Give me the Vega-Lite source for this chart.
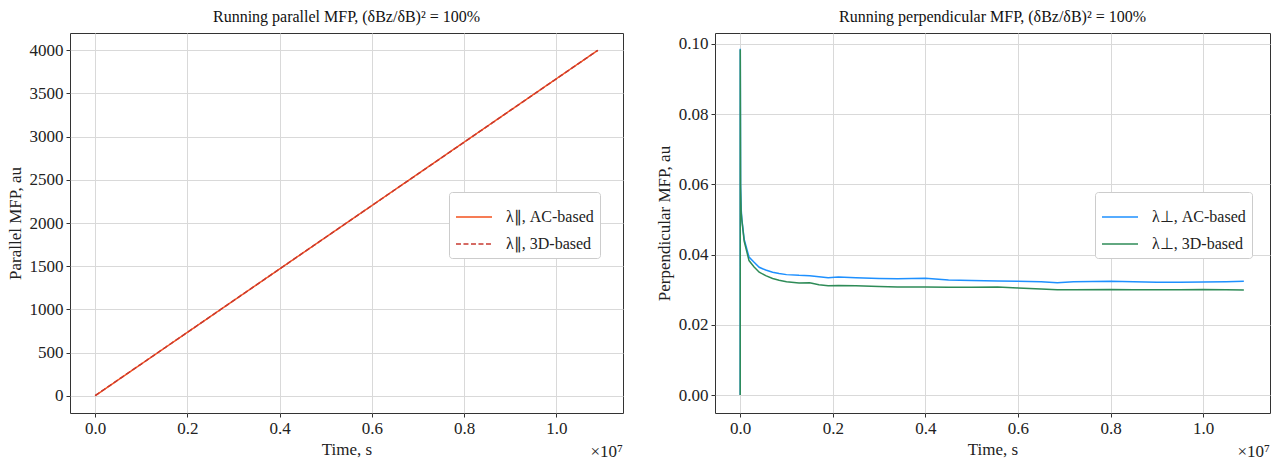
{
  "$schema": "https://vega.github.io/schema/vega-lite/v6.json",
  "background": "white",
  "padding": {"left": 5, "top": 8, "right": 5, "bottom": 2},
  "bounds": "flush",
  "spacing": 92,
  "config": {
    "font": "Liberation Serif",
    "view": {"stroke": "#333333", "strokeWidth": 1},
    "axis": {
      "labelFont": "Liberation Serif", "labelFontSize": 17, "labelColor": "#222222",
      "titleFont": "Liberation Serif", "titleFontSize": 17, "titleFontWeight": "normal", "titleColor": "#222222",
      "gridColor": "#d9d9d9", "gridWidth": 1, "tickColor": "#333333", "tickSize": 4,
      "domain": false, "labelPadding": 3, "titlePadding": 5
    },
    "legend": {
      "orient": "none", "legendX": 379, "legendY": 159,
      "fillColor": "white", "strokeColor": "#cccccc", "cornerRadius": 3, "padding": 6,
      "labelFont": "Liberation Serif", "labelFontSize": 16, "labelColor": "#222222",
      "symbolType": "stroke", "symbolSize": 1300, "symbolStrokeWidth": 1.5,
      "labelOffset": 13, "rowPadding": -7, "title": null
    },
    "title": {"font": "Liberation Serif", "fontSize": 16, "fontWeight": "normal", "color": "#111111", "offset": 8, "anchor": "middle"}
  },
  "datasets": {
    "par": [
      {"series": "λ∥, AC-based", "t": 0, "v": 0},
      {"series": "λ∥, AC-based", "t": 1000000, "v": 367},
      {"series": "λ∥, AC-based", "t": 2000000, "v": 734},
      {"series": "λ∥, AC-based", "t": 3000000, "v": 1101},
      {"series": "λ∥, AC-based", "t": 4000000, "v": 1468},
      {"series": "λ∥, AC-based", "t": 5000000, "v": 1835},
      {"series": "λ∥, AC-based", "t": 6000000, "v": 2202},
      {"series": "λ∥, AC-based", "t": 7000000, "v": 2569},
      {"series": "λ∥, AC-based", "t": 8000000, "v": 2936},
      {"series": "λ∥, AC-based", "t": 9000000, "v": 3303},
      {"series": "λ∥, AC-based", "t": 10000000, "v": 3670},
      {"series": "λ∥, AC-based", "t": 10900000, "v": 4000},
      {"series": "λ∥, 3D-based", "t": 0, "v": 0},
      {"series": "λ∥, 3D-based", "t": 1000000, "v": 367},
      {"series": "λ∥, 3D-based", "t": 2000000, "v": 734},
      {"series": "λ∥, 3D-based", "t": 3000000, "v": 1101},
      {"series": "λ∥, 3D-based", "t": 4000000, "v": 1468},
      {"series": "λ∥, 3D-based", "t": 5000000, "v": 1835},
      {"series": "λ∥, 3D-based", "t": 6000000, "v": 2202},
      {"series": "λ∥, 3D-based", "t": 7000000, "v": 2569},
      {"series": "λ∥, 3D-based", "t": 8000000, "v": 2936},
      {"series": "λ∥, 3D-based", "t": 9000000, "v": 3303},
      {"series": "λ∥, 3D-based", "t": 10000000, "v": 3670},
      {"series": "λ∥, 3D-based", "t": 10900000, "v": 4000}
    ],
    "perp": [
      {"series": "λ⊥, AC-based", "t": 0, "v": 0},
      {"series": "λ⊥, AC-based", "t": 1000, "v": 0.0986},
      {"series": "λ⊥, AC-based", "t": 8000, "v": 0.060},
      {"series": "λ⊥, AC-based", "t": 20000, "v": 0.053},
      {"series": "λ⊥, AC-based", "t": 36000, "v": 0.0500},
      {"series": "λ⊥, AC-based", "t": 86000, "v": 0.0443},
      {"series": "λ⊥, AC-based", "t": 190000, "v": 0.0393},
      {"series": "λ⊥, AC-based", "t": 300000, "v": 0.0378},
      {"series": "λ⊥, AC-based", "t": 410000, "v": 0.0364},
      {"series": "λ⊥, AC-based", "t": 550000, "v": 0.0356},
      {"series": "λ⊥, AC-based", "t": 700000, "v": 0.0350},
      {"series": "λ⊥, AC-based", "t": 840000, "v": 0.0346},
      {"series": "λ⊥, AC-based", "t": 1000000, "v": 0.0343},
      {"series": "λ⊥, AC-based", "t": 1270000, "v": 0.0341},
      {"series": "λ⊥, AC-based", "t": 1500000, "v": 0.0340},
      {"series": "λ⊥, AC-based", "t": 1700000, "v": 0.0337},
      {"series": "λ⊥, AC-based", "t": 1900000, "v": 0.0334},
      {"series": "λ⊥, AC-based", "t": 2120000, "v": 0.0336},
      {"series": "λ⊥, AC-based", "t": 2500000, "v": 0.0334},
      {"series": "λ⊥, AC-based", "t": 3000000, "v": 0.0332},
      {"series": "λ⊥, AC-based", "t": 3400000, "v": 0.0331},
      {"series": "λ⊥, AC-based", "t": 4000000, "v": 0.0333},
      {"series": "λ⊥, AC-based", "t": 4500000, "v": 0.0328},
      {"series": "λ⊥, AC-based", "t": 5000000, "v": 0.0326},
      {"series": "λ⊥, AC-based", "t": 5560000, "v": 0.0325},
      {"series": "λ⊥, AC-based", "t": 6000000, "v": 0.0324},
      {"series": "λ⊥, AC-based", "t": 6500000, "v": 0.0323},
      {"series": "λ⊥, AC-based", "t": 6850000, "v": 0.0320},
      {"series": "λ⊥, AC-based", "t": 7200000, "v": 0.0323},
      {"series": "λ⊥, AC-based", "t": 8000000, "v": 0.0324},
      {"series": "λ⊥, AC-based", "t": 8500000, "v": 0.0323},
      {"series": "λ⊥, AC-based", "t": 9000000, "v": 0.0321},
      {"series": "λ⊥, AC-based", "t": 9500000, "v": 0.0321},
      {"series": "λ⊥, AC-based", "t": 10000000, "v": 0.0322},
      {"series": "λ⊥, AC-based", "t": 10500000, "v": 0.0323},
      {"series": "λ⊥, AC-based", "t": 10880000, "v": 0.0324},
      {"series": "λ⊥, 3D-based", "t": 0, "v": 0},
      {"series": "λ⊥, 3D-based", "t": 1000, "v": 0.0984},
      {"series": "λ⊥, 3D-based", "t": 8000, "v": 0.059},
      {"series": "λ⊥, 3D-based", "t": 20000, "v": 0.052},
      {"series": "λ⊥, 3D-based", "t": 36000, "v": 0.0497},
      {"series": "λ⊥, 3D-based", "t": 86000, "v": 0.0438},
      {"series": "λ⊥, 3D-based", "t": 190000, "v": 0.0383},
      {"series": "λ⊥, 3D-based", "t": 300000, "v": 0.0365},
      {"series": "λ⊥, 3D-based", "t": 410000, "v": 0.0350},
      {"series": "λ⊥, 3D-based", "t": 550000, "v": 0.0340},
      {"series": "λ⊥, 3D-based", "t": 700000, "v": 0.0332},
      {"series": "λ⊥, 3D-based", "t": 840000, "v": 0.0327},
      {"series": "λ⊥, 3D-based", "t": 1000000, "v": 0.0323},
      {"series": "λ⊥, 3D-based", "t": 1270000, "v": 0.0319},
      {"series": "λ⊥, 3D-based", "t": 1500000, "v": 0.0320},
      {"series": "λ⊥, 3D-based", "t": 1700000, "v": 0.0314},
      {"series": "λ⊥, 3D-based", "t": 1900000, "v": 0.0311},
      {"series": "λ⊥, 3D-based", "t": 2120000, "v": 0.0312},
      {"series": "λ⊥, 3D-based", "t": 2500000, "v": 0.0311},
      {"series": "λ⊥, 3D-based", "t": 3000000, "v": 0.0309},
      {"series": "λ⊥, 3D-based", "t": 3400000, "v": 0.0308},
      {"series": "λ⊥, 3D-based", "t": 4000000, "v": 0.0308},
      {"series": "λ⊥, 3D-based", "t": 4500000, "v": 0.0307},
      {"series": "λ⊥, 3D-based", "t": 5000000, "v": 0.0307},
      {"series": "λ⊥, 3D-based", "t": 5560000, "v": 0.0308},
      {"series": "λ⊥, 3D-based", "t": 6000000, "v": 0.0305},
      {"series": "λ⊥, 3D-based", "t": 6500000, "v": 0.0302},
      {"series": "λ⊥, 3D-based", "t": 6850000, "v": 0.0300},
      {"series": "λ⊥, 3D-based", "t": 7200000, "v": 0.0300},
      {"series": "λ⊥, 3D-based", "t": 8000000, "v": 0.0301},
      {"series": "λ⊥, 3D-based", "t": 8500000, "v": 0.0300},
      {"series": "λ⊥, 3D-based", "t": 9000000, "v": 0.0300},
      {"series": "λ⊥, 3D-based", "t": 9500000, "v": 0.0300},
      {"series": "λ⊥, 3D-based", "t": 10000000, "v": 0.0301},
      {"series": "λ⊥, 3D-based", "t": 10500000, "v": 0.0300},
      {"series": "λ⊥, 3D-based", "t": 10880000, "v": 0.0299}
    ],
    "offsetLabel": [{"label": "×10⁷"}]
  },
  "hconcat": [
    {
      "width": 553,
      "height": 380,
      "title": {"text": "Running parallel MFP, (δBz/δB)² = 100%"},
      "layer": [
        {
          "data": {"name": "par"},
          "mark": {"type": "line", "strokeWidth": 1.5},
          "encoding": {
            "x": {"field": "t", "type": "quantitative",
              "scale": {"domain": [-545000, 11445000], "nice": false, "zero": false},
              "axis": {"values": [0, 2000000, 4000000, 6000000, 8000000, 10000000], "labelExpr": "format(datum.value/1e7, '.1f')", "title": "Time, s"}},
            "y": {"field": "v", "type": "quantitative",
              "scale": {"domain": [-200, 4200], "nice": false, "zero": false},
              "axis": {"values": [0, 500, 1000, 1500, 2000, 2500, 3000, 3500, 4000], "format": "d", "title": "Parallel MFP, au"}},
            "color": {"field": "series", "type": "nominal",
              "scale": {"domain": ["λ∥, AC-based", "λ∥, 3D-based"], "range": ["#f4511e", "#c83a30"]}},
            "strokeDash": {"field": "series", "type": "nominal",
              "scale": {"domain": ["λ∥, AC-based", "λ∥, 3D-based"], "range": [[1, 0], [5, 2.5]]}}
          }
        },
        {
          "data": {"name": "offsetLabel"},
          "mark": {"type": "text", "align": "right", "baseline": "middle", "dy": 39, "fontSize": 17, "font": "Liberation Serif", "color": "#222222"},
          "encoding": {
            "x": {"datum": 11445000, "type": "quantitative"},
            "y": {"datum": -200, "type": "quantitative"},
            "text": {"field": "label"}
          }
        }
      ]
    },
    {
      "width": 555,
      "height": 380,
      "title": {"text": "Running perpendicular MFP, (δBz/δB)² = 100%"},
      "layer": [
        {
          "data": {"name": "perp"},
          "mark": {"type": "line", "strokeWidth": 1.5},
          "encoding": {
            "x": {"field": "t", "type": "quantitative",
              "scale": {"domain": [-545000, 11445000], "nice": false, "zero": false},
              "axis": {"values": [0, 2000000, 4000000, 6000000, 8000000, 10000000], "labelExpr": "format(datum.value/1e7, '.1f')", "title": "Time, s"}},
            "y": {"field": "v", "type": "quantitative",
              "scale": {"domain": [-0.0051, 0.1031], "nice": false, "zero": false},
              "axis": {"values": [0, 0.02, 0.04, 0.06, 0.08, 0.1], "format": ".2f", "title": "Perpendicular MFP, au"}},
            "color": {"field": "series", "type": "nominal",
              "scale": {"domain": ["λ⊥, AC-based", "λ⊥, 3D-based"], "range": ["#1e90ff", "#2e8b57"]},
              "legend": {"legendX": 380}}
          }
        },
        {
          "data": {"name": "offsetLabel"},
          "mark": {"type": "text", "align": "right", "baseline": "middle", "dy": 39, "fontSize": 17, "font": "Liberation Serif", "color": "#222222"},
          "encoding": {
            "x": {"datum": 11445000, "type": "quantitative"},
            "y": {"datum": -0.0051, "type": "quantitative"},
            "text": {"field": "label"}
          }
        }
      ]
    }
  ],
  "resolve": {"scale": {"color": "independent", "strokeDash": "independent"}}
}
